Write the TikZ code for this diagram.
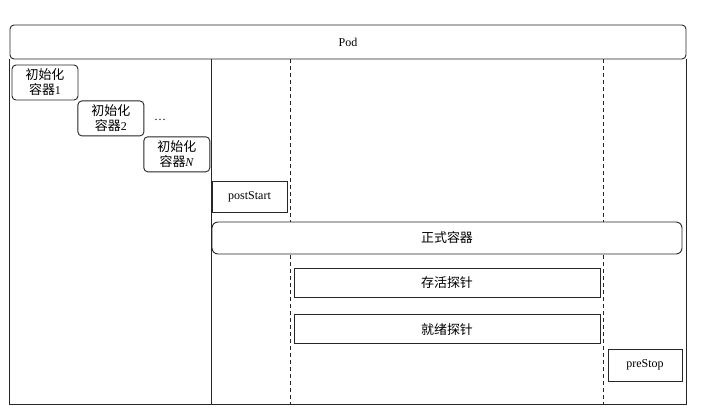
\documentclass[tikz,border=0pt]{standalone}
\usepackage{fontspec}
\setmainfont{Liberation Serif}
\newfontfamily\cjk[Scale=1.08]{Noto Sans CJK SC}
\usetikzlibrary{positioning}
\tikzset{frame line/.style={draw=black!85,line width=0.9pt}}
\tikzset{round box/.style={frame line,rounded corners=4pt,align=center,inner sep=0pt,font=\fontsize{12}{15}\selectfont}}
\tikzset{hook box/.style={frame line,inner sep=0pt,font=\fontsize{12}{15}\selectfont}}
\tikzset{phase line/.style={draw=black!85,line width=0.7pt,dash pattern=on 4pt off 3pt}}
\newcommand{\zhtext}[1]{{\cjk #1}}

\begin{document}
\begin{tikzpicture}[x=1pt,y=-1pt]
	\useasboundingbox (0,0) rectangle (701,416);
	\node[round box,minimum width=676pt,minimum height=34pt] (pod) at (348,42) {Pod};
	\coordinate (bottom) at (0,404);
	\coordinate (main start) at (211,404);
	\coordinate (probe start) at (290,404);
	\coordinate (probe end) at (603,404);
	\draw[frame line] (pod.south west) -- (pod.south west |- bottom) -- (pod.south east |- bottom) -- (pod.south east); %frame
	\draw[frame line] (main start |- pod.south) -- (main start);
	\draw[phase line] (probe start |- pod.south) -- (probe start);
	\draw[phase line] (probe end |- pod.south) -- (probe end);

	% init containers
	\node[round box,fill=white,minimum width=66pt,minimum height=35pt] (init1) at (45,82.5) {\zhtext{初始化}\\\zhtext{容器}1};
	\node[round box,fill=white,minimum width=66pt,minimum height=35pt,below right=0pt and -1pt of init1] (init2) {\zhtext{初始化}\\\zhtext{容器}2};
	\node[round box,fill=white,minimum width=66pt,minimum height=35pt,below right=0pt and -1pt of init2] (initN) {\zhtext{初始化}\\\zhtext{容器}\textit{N}};
	\node[font=\fontsize{12}{15}\selectfont] (dots) at (160,120) {\dots};

	\node[hook box,fill=white,minimum width=75pt,minimum height=31pt] (post start) at (249.5,196.5) {postStart};
	\node[round box,rounded corners=6pt,fill=white,minimum width=470pt,minimum height=32pt] (main) at (447,238) {\zhtext{正式容器}};
	\node[hook box,fill=white,minimum width=306pt,minimum height=29pt] (liveness) at (447,282.5) {\zhtext{存活探针}};
	\node[hook box,fill=white,minimum width=306pt,minimum height=29pt,below=17pt of liveness] (readiness) {\zhtext{就绪探针}};
	\node[hook box,fill=white,minimum width=74pt,minimum height=32pt] (pre stop) at (645,365) {preStop};
\end{tikzpicture}
\end{document}
